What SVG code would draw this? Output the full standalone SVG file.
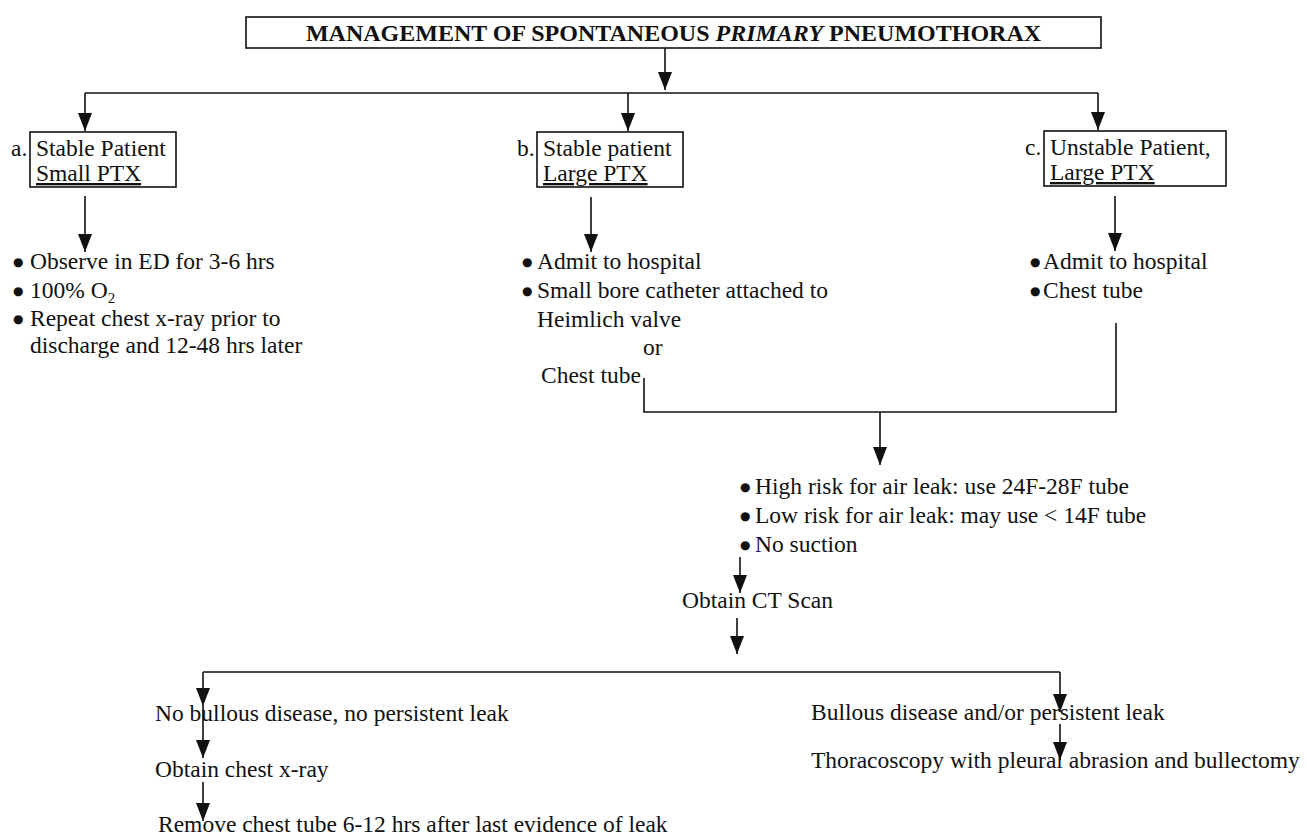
<svg xmlns="http://www.w3.org/2000/svg" width="1307" height="837" viewBox="0 0 1307 837">
<style>
text{font-family:"Liberation Serif","Times New Roman",serif;font-size:23.5px;fill:#111}
.title{font-size:24px;font-weight:bold}
.u{text-decoration:underline}
.bl{font-family:"DejaVu Sans",sans-serif;font-size:12px}
.box{fill:#fff;stroke:#111;stroke-width:1.6}
.ln{fill:none;stroke:#111;stroke-width:1.6}
.ar{fill:none;stroke:#111;stroke-width:1.6;marker-end:url(#ah)}
</style>
<defs>
<marker id="ah" markerUnits="userSpaceOnUse" markerWidth="18" markerHeight="14" refX="18" refY="7" orient="auto">
<path d="M0,0 L18,7 L0,14 z" fill="#111"/>
</marker>
</defs>
<rect width="1307" height="837" fill="#fff"/>
<g id="connectors">
<line class="ar" x1="665" y1="48" x2="665" y2="90"/>
<polyline class="ln" points="85,93 1098,93"/>
<line class="ar" x1="85" y1="93" x2="85" y2="131"/>
<line class="ar" x1="628" y1="93" x2="628" y2="131"/>
<line class="ar" x1="1098" y1="93" x2="1098" y2="130"/>
<line class="ar" x1="85" y1="196" x2="85" y2="252"/>
<line class="ar" x1="591" y1="197" x2="591" y2="252"/>
<line class="ar" x1="1115" y1="196" x2="1115" y2="251"/>
<polyline class="ln" points="644,378 644,412 1116,412 1116,323"/>
<line class="ar" x1="880" y1="412" x2="880" y2="465"/>
<line class="ar" x1="740" y1="557" x2="740" y2="593"/>
<line class="ar" x1="737" y1="618" x2="737" y2="654"/>
<polyline class="ln" points="203,672 1060,672"/>
<line class="ar" x1="203" y1="672" x2="203" y2="706"/>
<line class="ar" x1="203" y1="706" x2="203" y2="758"/>
<line class="ar" x1="203" y1="782" x2="203" y2="821"/>
<line class="ar" x1="1060" y1="672" x2="1060" y2="712"/>
<line class="ar" x1="1060" y1="724" x2="1060" y2="760"/>
</g>
<g id="title">
<rect class="box" x="246" y="17" width="855" height="31"/>
<text class="title" x="673.5" y="41" text-anchor="middle">MANAGEMENT OF SPONTANEOUS <tspan font-style="italic">PRIMARY</tspan> PNEUMOTHORAX</text>
</g>
<g id="node-a">
<rect class="box" x="30" y="132" width="146" height="55"/>
<text x="11" y="156">a.</text>
<text x="36" y="156">Stable Patient</text>
<text class="u" x="36" y="181">Small PTX</text>
</g>
<g id="node-b">
<rect class="box" x="537" y="132" width="146" height="55"/>
<text x="517" y="156">b.</text>
<text x="543" y="156">Stable patient</text>
<text class="u" x="543" y="181">Large PTX</text>
</g>
<g id="node-c">
<rect class="box" x="1044" y="131" width="182" height="55"/>
<text x="1025" y="155">c.</text>
<text x="1050" y="155">Unstable Patient,</text>
<text class="u" x="1050" y="180">Large PTX</text>
</g>
<g id="steps-a">
<text x="13" y="269"><tspan class="bl" dy="-3">●</tspan><tspan x="30" dy="3">Observe in ED for 3-6 hrs</tspan></text>
<text x="13" y="298"><tspan class="bl" dy="-3">●</tspan><tspan x="30" dy="3">100% O</tspan><tspan font-size="15" dy="5">2</tspan></text>
<text x="13" y="326"><tspan class="bl" dy="-3">●</tspan><tspan x="30" dy="3">Repeat chest x-ray prior to</tspan></text>
<text x="30" y="353">discharge and 12-48 hrs later</text>
</g>
<g id="steps-b">
<text x="522" y="269"><tspan class="bl" dy="-3">●</tspan><tspan x="537" dy="3">Admit to hospital</tspan></text>
<text x="522" y="298"><tspan class="bl" dy="-3">●</tspan><tspan x="537" dy="3">Small bore catheter attached to</tspan></text>
<text x="537" y="327">Heimlich valve</text>
<text x="643" y="355">or</text>
<text x="541" y="383">Chest tube</text>
</g>
<g id="steps-c">
<text x="1030" y="269"><tspan class="bl" dy="-3">●</tspan><tspan x="1043" dy="3">Admit to hospital</tspan></text>
<text x="1030" y="298"><tspan class="bl" dy="-3">●</tspan><tspan x="1043" dy="3">Chest tube</tspan></text>
</g>
<g id="tube-choice">
<text x="740" y="494"><tspan class="bl" dy="-3">●</tspan><tspan x="755" dy="3">High risk for air leak: use 24F-28F tube</tspan></text>
<text x="740" y="523"><tspan class="bl" dy="-3">●</tspan><tspan x="755" dy="3">Low risk for air leak: may use &lt; 14F tube</tspan></text>
<text x="740" y="552"><tspan class="bl" dy="-3">●</tspan><tspan x="755" dy="3">No suction</tspan></text>
</g>
<g id="ct-scan"><text x="682" y="608">Obtain CT Scan</text></g>
<g id="no-bullous"><text x="155" y="721">No bullous disease, no persistent leak</text></g>
<g id="chest-xray"><text x="155" y="777">Obtain chest x-ray</text></g>
<g id="remove-tube"><text x="158" y="832">Remove chest tube 6-12 hrs after last evidence of leak</text></g>
<g id="bullous"><text x="811" y="720">Bullous disease and/or persistent leak</text></g>
<g id="thoracoscopy"><text x="811" y="768">Thoracoscopy with pleural abrasion and bullectomy</text></g>
</svg>
